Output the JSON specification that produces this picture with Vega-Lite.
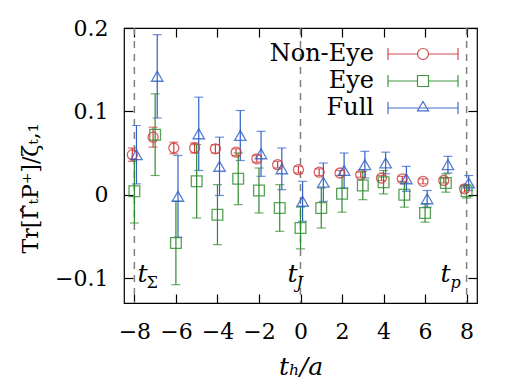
{
  "$schema": "https://vega.github.io/schema/vega-lite/v6.json",
  "width": 353,
  "height": 275,
  "autosize": {"type": "none"},
  "padding": {"left": 124, "top": 28, "right": 46, "bottom": 88},
  "background": "white",
  "config": {
    "view": {"stroke": "#000000", "strokeWidth": 1.2},
    "font": "DejaVu Serif",
    "axis": {
      "grid": false,
      "domain": false,
      "tickColor": "#000000",
      "tickSize": -9,
      "tickWidth": 1.2,
      "labelFont": "DejaVu Serif",
      "labelFontSize": 22,
      "labelColor": "#000000",
      "titleFont": "DejaVu Serif",
      "titleFontSize": 22,
      "titleColor": "#000000",
      "titleFontWeight": "normal"
    },
    "legend": {
      "orient": "none",
      "legendX": 287,
      "legendY": 14,
      "padding": 0,
      "offset": 0,
      "symbolSize": 400,
      "symbolStrokeWidth": 1.2,
      "labelAlign": "right",
      "labelOffset": -61,
      "labelFontSize": 24,
      "labelFont": "DejaVu Serif",
      "labelColor": "#000000",
      "rowPadding": 3
    }
  },
  "datasets": {
    "pts": [
      {"series": "Non-Eye", "x": -8.1, "y": 0.048, "err": 0.008},
      {"series": "Non-Eye", "x": -7.1, "y": 0.069, "err": 0.012},
      {"series": "Non-Eye", "x": -6.1, "y": 0.056, "err": 0.007},
      {"series": "Non-Eye", "x": -5.1, "y": 0.056, "err": 0.006},
      {"series": "Non-Eye", "x": -4.1, "y": 0.055, "err": 0.005},
      {"series": "Non-Eye", "x": -3.1, "y": 0.051, "err": 0.004},
      {"series": "Non-Eye", "x": -2.1, "y": 0.043, "err": 0.004},
      {"series": "Non-Eye", "x": -1.1, "y": 0.036, "err": 0.004},
      {"series": "Non-Eye", "x": -0.1, "y": 0.030, "err": 0.004},
      {"series": "Non-Eye", "x": 0.9, "y": 0.027, "err": 0.004},
      {"series": "Non-Eye", "x": 1.9, "y": 0.026, "err": 0.003},
      {"series": "Non-Eye", "x": 2.9, "y": 0.024, "err": 0.003},
      {"series": "Non-Eye", "x": 3.9, "y": 0.020, "err": 0.003},
      {"series": "Non-Eye", "x": 4.9, "y": 0.019, "err": 0.003},
      {"series": "Non-Eye", "x": 5.9, "y": 0.016, "err": 0.003},
      {"series": "Non-Eye", "x": 6.9, "y": 0.017, "err": 0.003},
      {"series": "Non-Eye", "x": 7.9, "y": 0.007, "err": 0.004},
      {"series": "Eye", "x": -8, "y": 0.004, "err": 0.038},
      {"series": "Eye", "x": -7, "y": 0.072, "err": 0.049},
      {"series": "Eye", "x": -6, "y": -0.058, "err": 0.050},
      {"series": "Eye", "x": -5, "y": 0.016, "err": 0.044},
      {"series": "Eye", "x": -4, "y": -0.024, "err": 0.036},
      {"series": "Eye", "x": -3, "y": 0.019, "err": 0.031},
      {"series": "Eye", "x": -2, "y": 0.005, "err": 0.027},
      {"series": "Eye", "x": -1, "y": -0.016, "err": 0.028},
      {"series": "Eye", "x": 0, "y": -0.040, "err": 0.025},
      {"series": "Eye", "x": 1, "y": -0.016, "err": 0.024},
      {"series": "Eye", "x": 2, "y": 0.001, "err": 0.022},
      {"series": "Eye", "x": 3, "y": 0.011, "err": 0.017},
      {"series": "Eye", "x": 4, "y": 0.015, "err": 0.014},
      {"series": "Eye", "x": 5, "y": 0.000, "err": 0.015},
      {"series": "Eye", "x": 6, "y": -0.022, "err": 0.011},
      {"series": "Eye", "x": 7, "y": 0.014, "err": 0.011},
      {"series": "Eye", "x": 8, "y": 0.004, "err": 0.008},
      {"series": "Full", "x": -7.9, "y": 0.048, "err": 0.035},
      {"series": "Full", "x": -6.9, "y": 0.142, "err": 0.050},
      {"series": "Full", "x": -5.9, "y": -0.002, "err": 0.049},
      {"series": "Full", "x": -4.9, "y": 0.073, "err": 0.044},
      {"series": "Full", "x": -3.9, "y": 0.034, "err": 0.035},
      {"series": "Full", "x": -2.9, "y": 0.071, "err": 0.030},
      {"series": "Full", "x": -1.9, "y": 0.049, "err": 0.027},
      {"series": "Full", "x": -0.9, "y": 0.031, "err": 0.025},
      {"series": "Full", "x": 0.1, "y": -0.008, "err": 0.024},
      {"series": "Full", "x": 1.1, "y": 0.015, "err": 0.023},
      {"series": "Full", "x": 2.1, "y": 0.029, "err": 0.021},
      {"series": "Full", "x": 3.1, "y": 0.036, "err": 0.016},
      {"series": "Full", "x": 4.1, "y": 0.038, "err": 0.013},
      {"series": "Full", "x": 5.1, "y": 0.019, "err": 0.015},
      {"series": "Full", "x": 6.1, "y": -0.005, "err": 0.010},
      {"series": "Full", "x": 7.1, "y": 0.036, "err": 0.010},
      {"series": "Full", "x": 8.1, "y": 0.014, "err": 0.009}
    ],
    "lines": [
      {"t": -8, "sub": "Σ"},
      {"t": 0, "sub": "J"},
      {"t": 8, "sub": "p"}
    ]
  },
  "layer": [
    {
      "data": {"name": "lines"},
      "mark": {"type": "rule", "color": "#808080", "strokeWidth": 1.5, "strokeDash": [7, 6]},
      "encoding": {
        "x": {"field": "t", "type": "quantitative", "scale": {"domain": [-8.5, 8.5], "nice": false, "zero": false}, "axis": null}
      }
    },
    {
      "data": {"name": "pts"},
      "mark": {"type": "errorbar", "ticks": {"size": 9}, "thickness": 1.2},
      "encoding": {
        "x": {"field": "x", "type": "quantitative", "scale": {"domain": [-8.5, 8.5], "nice": false, "zero": false}, "axis": null},
        "y": {"field": "y", "type": "quantitative", "scale": {"domain": [-0.13, 0.2], "nice": false, "zero": false}, "axis": null},
        "yError": {"field": "err"},
        "color": {"field": "series", "type": "nominal", "scale": {"domain": ["Non-Eye", "Eye", "Full"], "range": ["#d03a3a", "#2e8b2e", "#2f5fc8"]}, "legend": null}
      }
    },
    {
      "data": {"name": "pts"},
      "mark": {"type": "point", "filled": false, "strokeWidth": 1.3, "opacity": 0.8},
      "encoding": {
        "x": {"field": "x", "type": "quantitative", "scale": {"domain": [-8.5, 8.5], "nice": false, "zero": false},
          "axis": {"values": [-8, -6, -4, -2, 0, 2, 4, 6, 8], "labelPadding": 27, "title": "tₕ/a", "titleFontStyle": "italic", "titleFontSize": 25, "titlePadding": 12}},
        "y": {"field": "y", "type": "quantitative", "scale": {"domain": [-0.13, 0.2], "nice": false, "zero": false},
          "axis": {"values": [-0.1, 0, 0.1, 0.2], "format": "~g", "labelPadding": 25, "title": "Tr[Γ̂ₜP⁺]/ζₜ,₁", "titleX": -82, "titleY": 160, "titleAlign": "center", "titleBaseline": "bottom"}},
        "color": {"field": "series", "type": "nominal", "scale": {"domain": ["Non-Eye", "Eye", "Full"], "range": ["#d03a3a", "#2e8b2e", "#2f5fc8"]}, "legend": null},
        "shape": {"field": "series", "type": "nominal", "scale": {"domain": ["Non-Eye", "Eye", "Full"], "range": ["circle", "square", "triangle-up"]}, "legend": null},
        "size": {"field": "series", "type": "nominal", "scale": {"domain": ["Non-Eye", "Eye", "Full"], "range": [100, 130, 150]}, "legend": null}
      }
    },
    {
      "data": {"name": "pts"},
      "transform": [{"filter": "false"}],
      "mark": {"type": "point", "filled": false, "strokeWidth": 1.2, "opacity": 0.9},
      "encoding": {
        "x": {"field": "x", "type": "quantitative", "scale": {"domain": [-8.5, 8.5], "nice": false, "zero": false},
          "axis": {"orient": "top", "values": [-8, -6, -4, -2, 0, 2, 4, 6, 8], "labels": false, "title": null}},
        "y": {"field": "y", "type": "quantitative", "scale": {"domain": [-0.13, 0.2], "nice": false, "zero": false},
          "axis": {"orient": "right", "values": [-0.1, 0, 0.1, 0.2], "labels": false, "title": null}},
        "color": {"field": "series", "type": "nominal", "scale": {"domain": ["Non-Eye", "Eye", "Full"], "range": ["#d03a3a", "#2e8b2e", "#2f5fc8"]}, "legend": {"title": null}},
        "shape": {"field": "series", "type": "nominal", "scale": {"domain": ["Non-Eye", "Eye", "Full"], "range": [
          "M-3.5,0H-0.55M0.55,0H3.5M-3.5,-0.6V0.6M3.5,-0.6V0.6M0.55,0A0.55,0.55,0,1,1,-0.55,0A0.55,0.55,0,1,1,0.55,0Z",
          "M-3.5,0H-0.55M0.55,0H3.5M-3.5,-0.6V0.6M3.5,-0.6V0.6M-0.55,-0.55H0.55V0.55H-0.55Z",
          "M-3.5,0H3.5M-3.5,-0.6V0.6M3.5,-0.6V0.6M0,-0.65L0.55,0.28H-0.55Z"
        ]}, "legend": {"title": null}}
      }
    },
    {
      "data": {"name": "lines"},
      "transform": [{"filter": "datum.t == -8"}],
      "mark": {"type": "text", "text": "t", "font": "DejaVu Serif", "fontStyle": "italic", "fontSize": 25, "align": "left", "baseline": "alphabetic", "dx": 3},
      "encoding": {
        "x": {"field": "t", "type": "quantitative", "scale": {"domain": [-8.5, 8.5], "nice": false, "zero": false}, "axis": null},
        "y": {"datum": -0.105, "type": "quantitative", "scale": {"domain": [-0.13, 0.2], "nice": false, "zero": false}, "axis": null}
      }
    },
    {
      "data": {"name": "lines"},
      "transform": [{"filter": "datum.t == -8"}],
      "mark": {"type": "text", "font": "DejaVu Serif", "fontSize": 16, "align": "left", "baseline": "alphabetic", "dx": 12, "dy": 6},
      "encoding": {
        "x": {"field": "t", "type": "quantitative", "scale": {"domain": [-8.5, 8.5], "nice": false, "zero": false}, "axis": null},
        "y": {"datum": -0.105, "type": "quantitative", "scale": {"domain": [-0.13, 0.2], "nice": false, "zero": false}, "axis": null},
        "text": {"field": "sub"}
      }
    },
    {
      "data": {"name": "lines"},
      "transform": [{"filter": "datum.t == 0"}],
      "mark": {"type": "text", "text": "t", "font": "DejaVu Serif", "fontStyle": "italic", "fontSize": 25, "align": "left", "baseline": "alphabetic", "dx": -13},
      "encoding": {
        "x": {"field": "t", "type": "quantitative", "scale": {"domain": [-8.5, 8.5], "nice": false, "zero": false}, "axis": null},
        "y": {"datum": -0.105, "type": "quantitative", "scale": {"domain": [-0.13, 0.2], "nice": false, "zero": false}, "axis": null}
      }
    },
    {
      "data": {"name": "lines"},
      "transform": [{"filter": "datum.t == 0"}],
      "mark": {"type": "text", "font": "DejaVu Serif", "fontStyle": "italic", "fontSize": 16, "align": "left", "baseline": "alphabetic", "dx": -4, "dy": 6},
      "encoding": {
        "x": {"field": "t", "type": "quantitative", "scale": {"domain": [-8.5, 8.5], "nice": false, "zero": false}, "axis": null},
        "y": {"datum": -0.105, "type": "quantitative", "scale": {"domain": [-0.13, 0.2], "nice": false, "zero": false}, "axis": null},
        "text": {"field": "sub"}
      }
    },
    {
      "data": {"name": "lines"},
      "transform": [{"filter": "datum.t == 8"}],
      "mark": {"type": "text", "text": "t", "font": "DejaVu Serif", "fontStyle": "italic", "fontSize": 25, "align": "left", "baseline": "alphabetic", "dx": -26},
      "encoding": {
        "x": {"field": "t", "type": "quantitative", "scale": {"domain": [-8.5, 8.5], "nice": false, "zero": false}, "axis": null},
        "y": {"datum": -0.105, "type": "quantitative", "scale": {"domain": [-0.13, 0.2], "nice": false, "zero": false}, "axis": null}
      }
    },
    {
      "data": {"name": "lines"},
      "transform": [{"filter": "datum.t == 8"}],
      "mark": {"type": "text", "font": "DejaVu Serif", "fontStyle": "italic", "fontSize": 16, "align": "left", "baseline": "alphabetic", "dx": -16, "dy": 6},
      "encoding": {
        "x": {"field": "t", "type": "quantitative", "scale": {"domain": [-8.5, 8.5], "nice": false, "zero": false}, "axis": null},
        "y": {"datum": -0.105, "type": "quantitative", "scale": {"domain": [-0.13, 0.2], "nice": false, "zero": false}, "axis": null},
        "text": {"field": "sub"}
      }
    }
  ],
  "resolve": {
    "scale": {"color": "independent", "shape": "independent", "size": "independent"},
    "axis": {"x": "independent", "y": "independent"}
  }
}
